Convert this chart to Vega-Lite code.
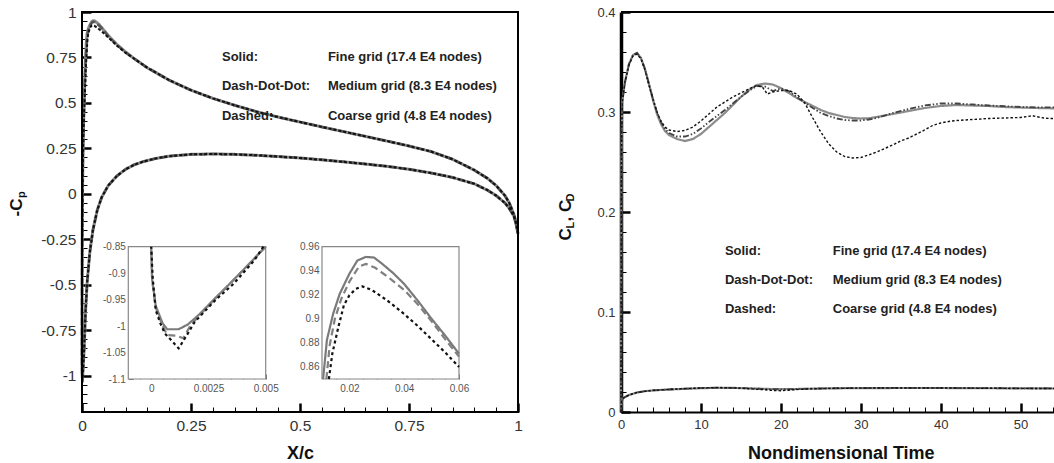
{
  "$schema": "https://vega.github.io/schema/vega-lite/v6.json",
  "width": 1054,
  "height": 463,
  "autosize": "none",
  "padding": 0,
  "background": "white",
  "config": {
    "view": {"stroke": null},
    "font": "Liberation Sans",
    "axis": {"grid": false, "labelFont": "Liberation Sans", "titleFont": "Liberation Sans", "labelOverlap": false, "labelBound": false, "labelFlush": false}
  },
  "datasets": {
    "cp": [
      {"g":"f","x":1,"y":-0.22},{"g":"f","x":0.995,"y":-0.16},{"g":"f","x":0.99,"y":-0.12},{"g":"f","x":0.98,"y":-0.08},{"g":"f","x":0.97,"y":-0.05},{"g":"f","x":0.95,"y":-0.01},{"g":"f","x":0.93,"y":0.02},{"g":"f","x":0.9,"y":0.055},{"g":"f","x":0.85,"y":0.09},{"g":"f","x":0.8,"y":0.115},{"g":"f","x":0.75,"y":0.135},{"g":"f","x":0.7,"y":0.151},{"g":"f","x":0.65,"y":0.164},{"g":"f","x":0.6,"y":0.176},{"g":"f","x":0.55,"y":0.187},{"g":"f","x":0.5,"y":0.197},{"g":"f","x":0.45,"y":0.205},{"g":"f","x":0.4,"y":0.212},{"g":"f","x":0.35,"y":0.217},{"g":"f","x":0.3,"y":0.219},{"g":"f","x":0.25,"y":0.217},{"g":"f","x":0.2,"y":0.207},{"g":"f","x":0.17,"y":0.195},{"g":"f","x":0.14,"y":0.177},{"g":"f","x":0.12,"y":0.16},{"g":"f","x":0.1,"y":0.135},{"g":"f","x":0.08,"y":0.098},{"g":"f","x":0.06,"y":0.045},{"g":"f","x":0.045,"y":-0.02},{"g":"f","x":0.035,"y":-0.09},{"g":"f","x":0.025,"y":-0.2},{"g":"f","x":0.018,"y":-0.32},{"g":"f","x":0.012,"y":-0.48},{"g":"f","x":0.008,"y":-0.65},
      {"g":"f","x":0.005,"y":-0.85},{"g":"f","x":0.0042,"y":-0.886},{"g":"f","x":0.0035,"y":-0.917},{"g":"f","x":0.0028,"y":-0.947},{"g":"f","x":0.0021,"y":-0.978},{"g":"f","x":0.0016,"y":-0.997},{"g":"f","x":0.0012,"y":-1.006},{"g":"f","x":0.0007,"y":-1.006},{"g":"f","x":0.0005,"y":-0.995},{"g":"f","x":0.0002,"y":-0.962},{"g":"f","x":0.00004,"y":-0.912},{"g":"f","x":0,"y":-0.85},
      {"g":"f","x":0.0001,"y":-0.55},{"g":"f","x":0.0005,"y":-0.25},{"g":"f","x":0.0012,"y":0.02},{"g":"f","x":0.0025,"y":0.28},{"g":"f","x":0.005,"y":0.52},{"g":"f","x":0.0077,"y":0.73},{"g":"f","x":0.0104,"y":0.85},{"g":"f","x":0.0118,"y":0.8825},{"g":"f","x":0.0141,"y":0.9045},{"g":"f","x":0.0165,"y":0.921},{"g":"f","x":0.02,"y":0.9375},{"g":"f","x":0.0229,"y":0.9485},{"g":"f","x":0.026,"y":0.9515},{"g":"f","x":0.029,"y":0.951},{"g":"f","x":0.032,"y":0.9457},{"g":"f","x":0.036,"y":0.938},{"g":"f","x":0.04,"y":0.929},{"g":"f","x":0.045,"y":0.915},{"g":"f","x":0.05,"y":0.9},{"g":"f","x":0.055,"y":0.886},{"g":"f","x":0.06,"y":0.871},{"g":"f","x":0.07,"y":0.846},{"g":"f","x":0.08,"y":0.822},{"g":"f","x":0.1,"y":0.78},
      {"g":"f","x":0.12,"y":0.743},{"g":"f","x":0.15,"y":0.693},{"g":"f","x":0.2,"y":0.625},{"g":"f","x":0.25,"y":0.57},{"g":"f","x":0.3,"y":0.525},{"g":"f","x":0.35,"y":0.487},{"g":"f","x":0.4,"y":0.452},{"g":"f","x":0.45,"y":0.422},{"g":"f","x":0.5,"y":0.395},{"g":"f","x":0.55,"y":0.368},{"g":"f","x":0.6,"y":0.342},{"g":"f","x":0.65,"y":0.316},{"g":"f","x":0.7,"y":0.29},{"g":"f","x":0.75,"y":0.263},{"g":"f","x":0.8,"y":0.233},{"g":"f","x":0.85,"y":0.19},{"g":"f","x":0.9,"y":0.13},{"g":"f","x":0.93,"y":0.085},{"g":"f","x":0.95,"y":0.045},{"g":"f","x":0.97,"y":-0.01},{"g":"f","x":0.98,"y":-0.05},{"g":"f","x":0.99,"y":-0.11},{"g":"f","x":0.995,"y":-0.15},{"g":"f","x":1,"y":-0.22},

      {"g":"m","x":1,"y":-0.22},{"g":"m","x":0.995,"y":-0.16},{"g":"m","x":0.99,"y":-0.12},{"g":"m","x":0.98,"y":-0.08},{"g":"m","x":0.97,"y":-0.05},{"g":"m","x":0.95,"y":-0.01},{"g":"m","x":0.93,"y":0.02},{"g":"m","x":0.9,"y":0.055},{"g":"m","x":0.85,"y":0.09},{"g":"m","x":0.8,"y":0.115},{"g":"m","x":0.75,"y":0.135},{"g":"m","x":0.7,"y":0.151},{"g":"m","x":0.65,"y":0.164},{"g":"m","x":0.6,"y":0.176},{"g":"m","x":0.55,"y":0.187},{"g":"m","x":0.5,"y":0.197},{"g":"m","x":0.45,"y":0.205},{"g":"m","x":0.4,"y":0.212},{"g":"m","x":0.35,"y":0.217},{"g":"m","x":0.3,"y":0.219},{"g":"m","x":0.25,"y":0.217},{"g":"m","x":0.2,"y":0.207},{"g":"m","x":0.17,"y":0.195},{"g":"m","x":0.14,"y":0.177},{"g":"m","x":0.12,"y":0.16},{"g":"m","x":0.1,"y":0.135},{"g":"m","x":0.08,"y":0.098},{"g":"m","x":0.06,"y":0.045},{"g":"m","x":0.045,"y":-0.02},{"g":"m","x":0.035,"y":-0.09},{"g":"m","x":0.025,"y":-0.2},{"g":"m","x":0.018,"y":-0.32},{"g":"m","x":0.012,"y":-0.48},{"g":"m","x":0.008,"y":-0.65},
      {"g":"m","x":0.005,"y":-0.85},{"g":"m","x":0.0042,"y":-0.886},{"g":"m","x":0.0035,"y":-0.917},{"g":"m","x":0.0028,"y":-0.948},{"g":"m","x":0.0021,"y":-0.98},{"g":"m","x":0.0017,"y":-1.0},{"g":"m","x":0.0014,"y":-1.023},{"g":"m","x":0.0011,"y":-1.018},{"g":"m","x":0.0007,"y":-1.017},{"g":"m","x":0.0005,"y":-1.0},{"g":"m","x":0.0002,"y":-0.965},{"g":"m","x":0.00004,"y":-0.912},{"g":"m","x":0,"y":-0.85},
      {"g":"m","x":0.0001,"y":-0.55},{"g":"m","x":0.0005,"y":-0.25},{"g":"m","x":0.0012,"y":0.02},{"g":"m","x":0.0025,"y":0.28},{"g":"m","x":0.005,"y":0.51},{"g":"m","x":0.008,"y":0.72},{"g":"m","x":0.0116,"y":0.85},{"g":"m","x":0.0128,"y":0.878},{"g":"m","x":0.0147,"y":0.9},{"g":"m","x":0.0171,"y":0.917},{"g":"m","x":0.02,"y":0.931},{"g":"m","x":0.0235,"y":0.9435},{"g":"m","x":0.026,"y":0.9457},{"g":"m","x":0.0294,"y":0.9425},{"g":"m","x":0.034,"y":0.935},{"g":"m","x":0.04,"y":0.924},{"g":"m","x":0.045,"y":0.912},{"g":"m","x":0.05,"y":0.898},{"g":"m","x":0.055,"y":0.883},{"g":"m","x":0.06,"y":0.8686},{"g":"m","x":0.07,"y":0.843},{"g":"m","x":0.08,"y":0.819},{"g":"m","x":0.1,"y":0.778},
      {"g":"m","x":0.12,"y":0.743},{"g":"m","x":0.15,"y":0.693},{"g":"m","x":0.2,"y":0.625},{"g":"m","x":0.25,"y":0.57},{"g":"m","x":0.3,"y":0.525},{"g":"m","x":0.35,"y":0.487},{"g":"m","x":0.4,"y":0.452},{"g":"m","x":0.45,"y":0.422},{"g":"m","x":0.5,"y":0.395},{"g":"m","x":0.55,"y":0.368},{"g":"m","x":0.6,"y":0.342},{"g":"m","x":0.65,"y":0.316},{"g":"m","x":0.7,"y":0.29},{"g":"m","x":0.75,"y":0.263},{"g":"m","x":0.8,"y":0.233},{"g":"m","x":0.85,"y":0.19},{"g":"m","x":0.9,"y":0.13},{"g":"m","x":0.93,"y":0.085},{"g":"m","x":0.95,"y":0.045},{"g":"m","x":0.97,"y":-0.01},{"g":"m","x":0.98,"y":-0.05},{"g":"m","x":0.99,"y":-0.11},{"g":"m","x":0.995,"y":-0.15},{"g":"m","x":1,"y":-0.22},

      {"g":"c","x":1,"y":-0.22},{"g":"c","x":0.995,"y":-0.16},{"g":"c","x":0.99,"y":-0.12},{"g":"c","x":0.98,"y":-0.08},{"g":"c","x":0.97,"y":-0.05},{"g":"c","x":0.95,"y":-0.01},{"g":"c","x":0.93,"y":0.02},{"g":"c","x":0.9,"y":0.055},{"g":"c","x":0.85,"y":0.09},{"g":"c","x":0.8,"y":0.115},{"g":"c","x":0.75,"y":0.135},{"g":"c","x":0.7,"y":0.151},{"g":"c","x":0.65,"y":0.164},{"g":"c","x":0.6,"y":0.176},{"g":"c","x":0.55,"y":0.187},{"g":"c","x":0.5,"y":0.197},{"g":"c","x":0.45,"y":0.205},{"g":"c","x":0.4,"y":0.212},{"g":"c","x":0.35,"y":0.217},{"g":"c","x":0.3,"y":0.219},{"g":"c","x":0.25,"y":0.217},{"g":"c","x":0.2,"y":0.207},{"g":"c","x":0.17,"y":0.195},{"g":"c","x":0.14,"y":0.177},{"g":"c","x":0.12,"y":0.16},{"g":"c","x":0.1,"y":0.135},{"g":"c","x":0.08,"y":0.098},{"g":"c","x":0.06,"y":0.045},{"g":"c","x":0.045,"y":-0.02},{"g":"c","x":0.035,"y":-0.09},{"g":"c","x":0.025,"y":-0.2},{"g":"c","x":0.018,"y":-0.32},{"g":"c","x":0.012,"y":-0.48},{"g":"c","x":0.008,"y":-0.65},
      {"g":"c","x":0.0049,"y":-0.85},{"g":"c","x":0.0045,"y":-0.876},{"g":"c","x":0.0036,"y":-0.92},{"g":"c","x":0.0028,"y":-0.951},{"g":"c","x":0.0019,"y":-0.992},{"g":"c","x":0.0016,"y":-1.014},{"g":"c","x":0.0012,"y":-1.042},{"g":"c","x":0.0006,"y":-1.014},{"g":"c","x":0.0004,"y":-0.995},{"g":"c","x":0.0002,"y":-0.97},{"g":"c","x":0.00007,"y":-0.912},{"g":"c","x":0,"y":-0.85},
      {"g":"c","x":0.0001,"y":-0.6},{"g":"c","x":0.0005,"y":-0.3},{"g":"c","x":0.0012,"y":-0.03},{"g":"c","x":0.0025,"y":0.23},{"g":"c","x":0.005,"y":0.45},{"g":"c","x":0.009,"y":0.7},{"g":"c","x":0.0125,"y":0.85},{"g":"c","x":0.0138,"y":0.8715},{"g":"c","x":0.016,"y":0.8935},{"g":"c","x":0.018,"y":0.9114},{"g":"c","x":0.02,"y":0.9196},{"g":"c","x":0.0224,"y":0.925},{"g":"c","x":0.0247,"y":0.927},{"g":"c","x":0.028,"y":0.9243},{"g":"c","x":0.034,"y":0.915},{"g":"c","x":0.04,"y":0.904},{"g":"c","x":0.045,"y":0.894},{"g":"c","x":0.05,"y":0.883},{"g":"c","x":0.055,"y":0.872},{"g":"c","x":0.06,"y":0.86},{"g":"c","x":0.07,"y":0.838},{"g":"c","x":0.08,"y":0.815},{"g":"c","x":0.1,"y":0.775},
      {"g":"c","x":0.12,"y":0.743},{"g":"c","x":0.15,"y":0.693},{"g":"c","x":0.2,"y":0.625},{"g":"c","x":0.25,"y":0.57},{"g":"c","x":0.3,"y":0.525},{"g":"c","x":0.35,"y":0.487},{"g":"c","x":0.4,"y":0.452},{"g":"c","x":0.45,"y":0.422},{"g":"c","x":0.5,"y":0.395},{"g":"c","x":0.55,"y":0.368},{"g":"c","x":0.6,"y":0.342},{"g":"c","x":0.65,"y":0.316},{"g":"c","x":0.7,"y":0.29},{"g":"c","x":0.75,"y":0.263},{"g":"c","x":0.8,"y":0.233},{"g":"c","x":0.85,"y":0.19},{"g":"c","x":0.9,"y":0.13},{"g":"c","x":0.93,"y":0.085},{"g":"c","x":0.95,"y":0.045},{"g":"c","x":0.97,"y":-0.01},{"g":"c","x":0.98,"y":-0.05},{"g":"c","x":0.99,"y":-0.11},{"g":"c","x":0.995,"y":-0.15},{"g":"c","x":1,"y":-0.22}
    ],
    "co": [
      {"g":"f","c":"L","t":0,"v":0},{"g":"f","c":"L","t":0.05,"v":0.25},{"g":"f","c":"L","t":0.15,"v":0.31},{"g":"f","c":"L","t":0.5,"v":0.33},{"g":"f","c":"L","t":1,"v":0.348},{"g":"f","c":"L","t":1.5,"v":0.357},{"g":"f","c":"L","t":2,"v":0.359},{"g":"f","c":"L","t":2.5,"v":0.354},{"g":"f","c":"L","t":3,"v":0.343},{"g":"f","c":"L","t":3.5,"v":0.328},{"g":"f","c":"L","t":4,"v":0.312},{"g":"f","c":"L","t":4.5,"v":0.298},{"g":"f","c":"L","t":5,"v":0.288},{"g":"f","c":"L","t":5.5,"v":0.281},{"g":"f","c":"L","t":6,"v":0.277},{"g":"f","c":"L","t":7,"v":0.273},{"g":"f","c":"L","t":8,"v":0.271},{"g":"f","c":"L","t":9,"v":0.273},{"g":"f","c":"L","t":10,"v":0.278},{"g":"f","c":"L","t":11,"v":0.285},{"g":"f","c":"L","t":12,"v":0.292},{"g":"f","c":"L","t":13,"v":0.299},{"g":"f","c":"L","t":14,"v":0.307},{"g":"f","c":"L","t":15,"v":0.315},{"g":"f","c":"L","t":16,"v":0.322},{"g":"f","c":"L","t":17,"v":0.327},{"g":"f","c":"L","t":18,"v":0.3285},{"g":"f","c":"L","t":19,"v":0.3275},{"g":"f","c":"L","t":20,"v":0.324},{"g":"f","c":"L","t":21,"v":0.319},{"g":"f","c":"L","t":22,"v":0.314},{"g":"f","c":"L","t":23,"v":0.31},{"g":"f","c":"L","t":24,"v":0.306},{"g":"f","c":"L","t":25,"v":0.302},{"g":"f","c":"L","t":26,"v":0.299},{"g":"f","c":"L","t":27,"v":0.297},{"g":"f","c":"L","t":28,"v":0.295},{"g":"f","c":"L","t":29,"v":0.294},{"g":"f","c":"L","t":30,"v":0.2935},{"g":"f","c":"L","t":31,"v":0.2937},{"g":"f","c":"L","t":32,"v":0.295},{"g":"f","c":"L","t":34,"v":0.298},{"g":"f","c":"L","t":36,"v":0.301},{"g":"f","c":"L","t":38,"v":0.304},{"g":"f","c":"L","t":40,"v":0.306},{"g":"f","c":"L","t":42,"v":0.307},{"g":"f","c":"L","t":44,"v":0.3065},{"g":"f","c":"L","t":46,"v":0.306},{"g":"f","c":"L","t":48,"v":0.305},{"g":"f","c":"L","t":50,"v":0.3045},{"g":"f","c":"L","t":52,"v":0.304},{"g":"f","c":"L","t":55,"v":0.3035},
      {"g":"m","c":"L","t":0,"v":0},{"g":"m","c":"L","t":0.05,"v":0.25},{"g":"m","c":"L","t":0.15,"v":0.31},{"g":"m","c":"L","t":0.5,"v":0.33},{"g":"m","c":"L","t":1,"v":0.348},{"g":"m","c":"L","t":1.5,"v":0.357},{"g":"m","c":"L","t":2,"v":0.359},{"g":"m","c":"L","t":2.5,"v":0.354},{"g":"m","c":"L","t":3,"v":0.343},{"g":"m","c":"L","t":3.5,"v":0.328},{"g":"m","c":"L","t":4,"v":0.313},{"g":"m","c":"L","t":4.5,"v":0.3},{"g":"m","c":"L","t":5,"v":0.29},{"g":"m","c":"L","t":5.5,"v":0.283},{"g":"m","c":"L","t":6,"v":0.279},{"g":"m","c":"L","t":7,"v":0.2755},{"g":"m","c":"L","t":8,"v":0.2755},{"g":"m","c":"L","t":9,"v":0.278},{"g":"m","c":"L","t":10,"v":0.2835},{"g":"m","c":"L","t":11,"v":0.29},{"g":"m","c":"L","t":12,"v":0.296},{"g":"m","c":"L","t":13,"v":0.302},{"g":"m","c":"L","t":14,"v":0.3085},{"g":"m","c":"L","t":15,"v":0.315},{"g":"m","c":"L","t":16,"v":0.321},{"g":"m","c":"L","t":17,"v":0.326},{"g":"m","c":"L","t":18,"v":0.3255},{"g":"m","c":"L","t":19,"v":0.321},{"g":"m","c":"L","t":20,"v":0.3235},{"g":"m","c":"L","t":21,"v":0.321},{"g":"m","c":"L","t":22,"v":0.315},{"g":"m","c":"L","t":23,"v":0.309},{"g":"m","c":"L","t":24,"v":0.304},{"g":"m","c":"L","t":25,"v":0.299},{"g":"m","c":"L","t":26,"v":0.296},{"g":"m","c":"L","t":27,"v":0.2935},{"g":"m","c":"L","t":28,"v":0.292},{"g":"m","c":"L","t":29,"v":0.2915},{"g":"m","c":"L","t":30,"v":0.2915},{"g":"m","c":"L","t":31,"v":0.2925},{"g":"m","c":"L","t":32,"v":0.294},{"g":"m","c":"L","t":34,"v":0.299},{"g":"m","c":"L","t":36,"v":0.303},{"g":"m","c":"L","t":38,"v":0.3065},{"g":"m","c":"L","t":40,"v":0.3085},{"g":"m","c":"L","t":42,"v":0.3085},{"g":"m","c":"L","t":44,"v":0.3075},{"g":"m","c":"L","t":46,"v":0.3065},{"g":"m","c":"L","t":48,"v":0.3058},{"g":"m","c":"L","t":50,"v":0.305},{"g":"m","c":"L","t":52,"v":0.3047},{"g":"m","c":"L","t":55,"v":0.3045},
      {"g":"c","c":"L","t":0,"v":0},{"g":"c","c":"L","t":0.05,"v":0.25},{"g":"c","c":"L","t":0.15,"v":0.31},{"g":"c","c":"L","t":0.5,"v":0.33},{"g":"c","c":"L","t":1,"v":0.347},{"g":"c","c":"L","t":1.5,"v":0.356},{"g":"c","c":"L","t":2,"v":0.358},{"g":"c","c":"L","t":2.5,"v":0.353},{"g":"c","c":"L","t":3,"v":0.342},{"g":"c","c":"L","t":3.5,"v":0.327},{"g":"c","c":"L","t":4,"v":0.313},{"g":"c","c":"L","t":4.5,"v":0.3},{"g":"c","c":"L","t":5,"v":0.291},{"g":"c","c":"L","t":5.5,"v":0.285},{"g":"c","c":"L","t":6,"v":0.282},{"g":"c","c":"L","t":7,"v":0.2805},{"g":"c","c":"L","t":8,"v":0.2815},{"g":"c","c":"L","t":9,"v":0.285},{"g":"c","c":"L","t":10,"v":0.291},{"g":"c","c":"L","t":11,"v":0.298},{"g":"c","c":"L","t":12,"v":0.305},{"g":"c","c":"L","t":13,"v":0.31},{"g":"c","c":"L","t":14,"v":0.315},{"g":"c","c":"L","t":15,"v":0.319},{"g":"c","c":"L","t":16,"v":0.323},{"g":"c","c":"L","t":17,"v":0.3265},{"g":"c","c":"L","t":17.7,"v":0.325},{"g":"c","c":"L","t":18.3,"v":0.318},{"g":"c","c":"L","t":19,"v":0.32},{"g":"c","c":"L","t":20,"v":0.3215},{"g":"c","c":"L","t":21,"v":0.3215},{"g":"c","c":"L","t":22,"v":0.318},{"g":"c","c":"L","t":23,"v":0.309},{"g":"c","c":"L","t":24,"v":0.294},{"g":"c","c":"L","t":25,"v":0.28},{"g":"c","c":"L","t":26,"v":0.268},{"g":"c","c":"L","t":27,"v":0.26},{"g":"c","c":"L","t":28,"v":0.2555},{"g":"c","c":"L","t":29,"v":0.254},{"g":"c","c":"L","t":30,"v":0.2545},{"g":"c","c":"L","t":31,"v":0.257},{"g":"c","c":"L","t":32,"v":0.26},{"g":"c","c":"L","t":33,"v":0.2635},{"g":"c","c":"L","t":34,"v":0.267},{"g":"c","c":"L","t":35,"v":0.271},{"g":"c","c":"L","t":36,"v":0.274},{"g":"c","c":"L","t":37,"v":0.278},{"g":"c","c":"L","t":38,"v":0.282},{"g":"c","c":"L","t":39,"v":0.2865},{"g":"c","c":"L","t":40,"v":0.289},{"g":"c","c":"L","t":41,"v":0.2905},{"g":"c","c":"L","t":42,"v":0.2915},{"g":"c","c":"L","t":44,"v":0.2925},{"g":"c","c":"L","t":46,"v":0.2935},{"g":"c","c":"L","t":48,"v":0.294},{"g":"c","c":"L","t":50,"v":0.2945},{"g":"c","c":"L","t":51.5,"v":0.2963},{"g":"c","c":"L","t":52.5,"v":0.2945},{"g":"c","c":"L","t":53.2,"v":0.2937},{"g":"c","c":"L","t":54,"v":0.2935},{"g":"c","c":"L","t":55,"v":0.292},
      {"g":"f","c":"D","t":0,"v":0},{"g":"f","c":"D","t":0.05,"v":0.01},{"g":"f","c":"D","t":0.3,"v":0.014},{"g":"f","c":"D","t":1,"v":0.017},{"g":"f","c":"D","t":2,"v":0.0195},{"g":"f","c":"D","t":3,"v":0.0208},{"g":"f","c":"D","t":4,"v":0.0216},{"g":"f","c":"D","t":6,"v":0.0225},{"g":"f","c":"D","t":8,"v":0.0232},{"g":"f","c":"D","t":10,"v":0.0238},{"g":"f","c":"D","t":12,"v":0.0242},{"g":"f","c":"D","t":14,"v":0.0241},{"g":"f","c":"D","t":16,"v":0.0237},{"g":"f","c":"D","t":18,"v":0.0231},{"g":"f","c":"D","t":20,"v":0.0228},{"g":"f","c":"D","t":22,"v":0.023},{"g":"f","c":"D","t":24,"v":0.0233},{"g":"f","c":"D","t":26,"v":0.0236},{"g":"f","c":"D","t":30,"v":0.0239},{"g":"f","c":"D","t":35,"v":0.024},{"g":"f","c":"D","t":40,"v":0.024},{"g":"f","c":"D","t":45,"v":0.0238},{"g":"f","c":"D","t":50,"v":0.0236},{"g":"f","c":"D","t":55,"v":0.0235},
      {"g":"m","c":"D","t":0,"v":0},{"g":"m","c":"D","t":0.05,"v":0.01},{"g":"m","c":"D","t":0.3,"v":0.014},{"g":"m","c":"D","t":1,"v":0.017},{"g":"m","c":"D","t":2,"v":0.0195},{"g":"m","c":"D","t":3,"v":0.0208},{"g":"m","c":"D","t":4,"v":0.0216},{"g":"m","c":"D","t":6,"v":0.0225},{"g":"m","c":"D","t":8,"v":0.0233},{"g":"m","c":"D","t":10,"v":0.0239},{"g":"m","c":"D","t":12,"v":0.0243},{"g":"m","c":"D","t":14,"v":0.0241},{"g":"m","c":"D","t":16,"v":0.0236},{"g":"m","c":"D","t":18,"v":0.023},{"g":"m","c":"D","t":20,"v":0.0227},{"g":"m","c":"D","t":22,"v":0.023},{"g":"m","c":"D","t":24,"v":0.0234},{"g":"m","c":"D","t":26,"v":0.0237},{"g":"m","c":"D","t":30,"v":0.024},{"g":"m","c":"D","t":35,"v":0.0241},{"g":"m","c":"D","t":40,"v":0.0241},{"g":"m","c":"D","t":45,"v":0.0239},{"g":"m","c":"D","t":50,"v":0.0237},{"g":"m","c":"D","t":55,"v":0.0236},
      {"g":"c","c":"D","t":0,"v":0},{"g":"c","c":"D","t":0.05,"v":0.01},{"g":"c","c":"D","t":0.3,"v":0.014},{"g":"c","c":"D","t":1,"v":0.017},{"g":"c","c":"D","t":2,"v":0.0195},{"g":"c","c":"D","t":3,"v":0.0208},{"g":"c","c":"D","t":4,"v":0.0216},{"g":"c","c":"D","t":6,"v":0.0226},{"g":"c","c":"D","t":8,"v":0.0234},{"g":"c","c":"D","t":10,"v":0.024},{"g":"c","c":"D","t":12,"v":0.0244},{"g":"c","c":"D","t":14,"v":0.0241},{"g":"c","c":"D","t":16,"v":0.0233},{"g":"c","c":"D","t":18,"v":0.0222},{"g":"c","c":"D","t":19,"v":0.0215},{"g":"c","c":"D","t":20,"v":0.0213},{"g":"c","c":"D","t":21,"v":0.0218},{"g":"c","c":"D","t":22,"v":0.0225},{"g":"c","c":"D","t":24,"v":0.0232},{"g":"c","c":"D","t":26,"v":0.0236},{"g":"c","c":"D","t":30,"v":0.0239},{"g":"c","c":"D","t":35,"v":0.024},{"g":"c","c":"D","t":40,"v":0.024},{"g":"c","c":"D","t":45,"v":0.0238},{"g":"c","c":"D","t":50,"v":0.0236},{"g":"c","c":"D","t":55,"v":0.0235}
    ]
  },
  "layer": [
    {
      "layer": [
        {
          "data": {"name": "cp"},
          "mark": {"type": "line", "strokeCap": "butt"},
          "encoding": {
            "x": {"field": "x", "type": "quantitative",
              "scale": {"domain": [0, 1], "range": [82, 518], "nice": false, "zero": false},
              "axis": {"orient": "bottom", "offset": -51, "domain": false, "labelOverlap": false,
                "values": [0,0.25,0.5,0.75,1], "labelExpr": "''+datum.value",
                "tickSize": -9, "tickWidth": 2.5, "tickColor": "black", "labelPadding": 15, "labelFontSize": 15.5, "labelColor": "#333",
                "title": "X/c", "titleFontSize": 18, "titleFontWeight": "bold", "titleColor": "#111",
                "titleY": 46.5, "titleBaseline": "alphabetic"}},
            "y": {"field": "y", "type": "quantitative",
              "scale": {"domain": [-1.2, 1], "range": [412, 12], "nice": false, "zero": false},
              "axis": {"orient": "left", "offset": -82, "domain": false, "labelOverlap": false,
                "values": [-1,-0.75,-0.5,-0.25,0,0.25,0.5,0.75,1], "labelExpr": "''+datum.value",
                "tickSize": -9, "tickWidth": 2.5, "tickColor": "black", "labelPadding": 15, "labelFontSize": 15.5, "labelColor": "#333",
                "title": "-C", "titleFontSize": 17, "titleFontWeight": "bold", "titleColor": "#111",
                "titleX": -61, "titleY": 216, "titleAlign": "left", "titleBaseline": "alphabetic", "titleAngle": -90}},
            "color": {"field": "g", "type": "nominal", "scale": {"domain": ["f","m","c"], "range": ["#8a8a8a","#555555","#111111"]}, "legend": null},
            "strokeDash": {"field": "g", "type": "nominal", "scale": {"domain": ["f","m","c"], "range": [[1,0],[7,3],[3,2]]}, "legend": null},
            "strokeWidth": {"field": "g", "type": "nominal", "scale": {"domain": ["f","m","c"], "range": [3,2,2]}, "legend": null},
            "order": {"value": null}
          }
        },
        {
          "data": {"values": [{}]},
          "mark": {"type": "rect", "filled": false, "color": "black", "strokeWidth": 2},
          "encoding": {"x": {"datum": 0}, "x2": {"datum": 1}, "y": {"datum": -1.2}, "y2": {"datum": 1}}
        },
        {
          "data": {"values": [{}]},
          "mark": {"type": "text", "align": "left", "baseline": "middle", "fontSize": 13, "fontWeight": "bold", "font": "Liberation Sans", "color": "#222", "lineHeight": 29.5},
          "encoding": {"x": {"datum": 0.321}, "y": {"datum": 0.754}, "text": {"value": ["Solid:", "Dash-Dot-Dot:", "Dashed:"]}}
        },
        {
          "data": {"values": [{}]},
          "mark": {"type": "text", "align": "left", "baseline": "middle", "fontSize": 13, "fontWeight": "bold", "font": "Liberation Sans", "color": "#222", "lineHeight": 29.5},
          "encoding": {"x": {"datum": 0.564}, "y": {"datum": 0.754}, "text": {"value": ["Fine grid (17.4 E4 nodes)", "Medium grid (8.3 E4 nodes)", "Coarse grid (4.8 E4 nodes)"]}}
        },
        {
          "data": {"values": [{}]},
          "mark": {"type": "text", "align": "left", "baseline": "alphabetic", "angle": -90, "fontSize": 11, "fontWeight": "bold", "font": "Liberation Sans", "color": "#111"},
          "encoding": {"x": {"datum": -0.1307}, "y": {"datum": -0.023}, "text": {"value": "p"}}
        }
      ]
    },
    {
      "data": {"values": [{}]},
      "mark": {"type": "point", "opacity": 0},
      "encoding": {
        "x": {"datum": 0, "type": "quantitative",
          "scale": {"domain": [0, 1], "range": [82, 518], "nice": false, "zero": false},
          "axis": {"orient": "bottom", "offset": -51, "domain": false, "labels": false, "title": null,
            "values": [0.05,0.1,0.15,0.2,0.3,0.35,0.4,0.45,0.55,0.6,0.65,0.7,0.8,0.85,0.9,0.95],
            "tickSize": -5, "tickWidth": 1, "tickColor": "black"}},
        "y": {"datum": 0, "type": "quantitative",
          "scale": {"domain": [-1.2, 1], "range": [412, 12], "nice": false, "zero": false},
          "axis": {"orient": "left", "offset": -82, "domain": false, "labels": false, "title": null,
            "values": [-1.15,-1.1,-1.05,-0.95,-0.9,-0.85,-0.8,-0.7,-0.65,-0.6,-0.55,-0.45,-0.4,-0.35,-0.3,-0.2,-0.15,-0.1,-0.05,0.05,0.1,0.15,0.2,0.3,0.35,0.4,0.45,0.55,0.6,0.65,0.7,0.8,0.85,0.9,0.95],
            "tickSize": -5, "tickWidth": 1, "tickColor": "black"}}
      }
    },
    {
      "layer": [
        {
          "data": {"values": [{}]},
          "mark": {"type": "rect", "fill": "white", "stroke": "#888", "strokeWidth": 1.2},
          "encoding": {"x": {"datum": -0.001}, "x2": {"datum": 0.005}, "y": {"datum": -1.1}, "y2": {"datum": -0.85}}
        },
        {
          "data": {"name": "cp"},
          "transform": [{"filter": "datum.x >= -0.001 && datum.x <= 0.005 && datum.y >= -1.1 && datum.y <= -0.85"}],
          "mark": {"type": "line", "strokeCap": "butt"},
          "encoding": {
            "x": {"field": "x", "type": "quantitative",
              "scale": {"domain": [-0.001, 0.005], "range": [128.3, 265.7], "nice": false, "zero": false},
              "axis": {"orient": "bottom", "offset": -84, "domain": false, "title": null, "labelOverlap": false,
                "values": [0,0.0025,0.005], "labelExpr": "''+datum.value",
                "tickSize": -5, "tickColor": "#777", "tickWidth": 1, "labelPadding": 9, "labelFontSize": 10, "labelColor": "#555"}},
            "y": {"field": "y", "type": "quantitative",
              "scale": {"domain": [-1.1, -0.85], "range": [379, 246.7], "nice": false, "zero": false},
              "axis": {"orient": "left", "offset": -128.3, "domain": false, "title": null, "labelOverlap": false,
                "values": [-1.1,-1.05,-1,-0.95,-0.9,-0.85], "labelExpr": "''+datum.value",
                "tickSize": -5, "tickColor": "#777", "tickWidth": 1, "labelPadding": 8, "labelFontSize": 10, "labelColor": "#555"}},
            "color": {"field": "g", "type": "nominal", "scale": {"domain": ["f","m","c"], "range": ["#7a7a7a","#808080","#111111"]}, "legend": null},
            "strokeDash": {"field": "g", "type": "nominal", "scale": {"domain": ["f","m","c"], "range": [[1,0],[7,4],[3,3]]}, "legend": null},
            "strokeWidth": {"field": "g", "type": "nominal", "scale": {"domain": ["f","m","c"], "range": [2.2,2.2,2.2]}, "legend": null},
            "order": {"value": null}
          }
        }
      ]
    },
    {
      "data": {"values": [{}]},
      "mark": {"type": "point", "opacity": 0},
      "encoding": {
        "x": {"datum": 0, "type": "quantitative",
          "scale": {"domain": [-0.001, 0.005], "range": [128.3, 265.7], "nice": false, "zero": false},
          "axis": {"orient": "bottom", "offset": -84, "domain": false, "labels": false, "title": null,
            "values": [-0.0005,0.0005,0.001,0.0015,0.002,0.003,0.0035,0.004,0.0045],
            "tickSize": -3, "tickWidth": 1, "tickColor": "#777"}},
        "y": {"datum": -1, "type": "quantitative",
          "scale": {"domain": [-1.1, -0.85], "range": [379, 246.7], "nice": false, "zero": false},
          "axis": {"orient": "left", "offset": -128.3, "domain": false, "labels": false, "title": null,
            "values": [-1.09,-1.08,-1.07,-1.06,-1.04,-1.03,-1.02,-1.01,-0.99,-0.98,-0.97,-0.96,-0.94,-0.93,-0.92,-0.91,-0.89,-0.88,-0.87,-0.86],
            "tickSize": -3, "tickWidth": 1, "tickColor": "#777"}}
      }
    },
    {
      "layer": [
        {
          "data": {"values": [{}]},
          "mark": {"type": "rect", "fill": "white", "stroke": "#888", "strokeWidth": 1.2},
          "encoding": {"x": {"datum": 0.01}, "x2": {"datum": 0.06}, "y": {"datum": 0.85}, "y2": {"datum": 0.96}}
        },
        {
          "data": {"name": "cp"},
          "transform": [{"filter": "datum.x >= 0.01 && datum.x <= 0.06 && datum.y >= 0.85 && datum.y <= 0.96"}],
          "mark": {"type": "line", "strokeCap": "butt"},
          "encoding": {
            "x": {"field": "x", "type": "quantitative",
              "scale": {"domain": [0.01, 0.06], "range": [322, 459], "nice": false, "zero": false},
              "axis": {"orient": "bottom", "offset": -84, "domain": false, "title": null, "labelOverlap": false,
                "values": [0.02,0.04,0.06], "labelExpr": "''+datum.value",
                "tickSize": -5, "tickColor": "#777", "tickWidth": 1, "labelPadding": 9, "labelFontSize": 10, "labelColor": "#555"}},
            "y": {"field": "y", "type": "quantitative",
              "scale": {"domain": [0.85, 0.96], "range": [379, 246.7], "nice": false, "zero": false},
              "axis": {"orient": "left", "offset": -322, "domain": false, "title": null, "labelOverlap": false,
                "values": [0.86,0.88,0.9,0.92,0.94,0.96], "labelExpr": "''+datum.value",
                "tickSize": -5, "tickColor": "#777", "tickWidth": 1, "labelPadding": 8, "labelFontSize": 10, "labelColor": "#555"}},
            "color": {"field": "g", "type": "nominal", "scale": {"domain": ["f","m","c"], "range": ["#7a7a7a","#808080","#111111"]}, "legend": null},
            "strokeDash": {"field": "g", "type": "nominal", "scale": {"domain": ["f","m","c"], "range": [[1,0],[7,4],[3,3]]}, "legend": null},
            "strokeWidth": {"field": "g", "type": "nominal", "scale": {"domain": ["f","m","c"], "range": [2.2,2.2,2.2]}, "legend": null},
            "order": {"value": null}
          }
        }
      ]
    },
    {
      "data": {"values": [{}]},
      "mark": {"type": "point", "opacity": 0},
      "encoding": {
        "x": {"datum": 0.03, "type": "quantitative",
          "scale": {"domain": [0.01, 0.06], "range": [322, 459], "nice": false, "zero": false},
          "axis": {"orient": "bottom", "offset": -84, "domain": false, "labels": false, "title": null,
            "values": [0.015,0.025,0.03,0.035,0.045,0.05,0.055],
            "tickSize": -3, "tickWidth": 1, "tickColor": "#777"}},
        "y": {"datum": 0.9, "type": "quantitative",
          "scale": {"domain": [0.85, 0.96], "range": [379, 246.7], "nice": false, "zero": false},
          "axis": {"orient": "left", "offset": -322, "domain": false, "labels": false, "title": null,
            "values": [0.855,0.865,0.87,0.875,0.885,0.89,0.895,0.905,0.91,0.915,0.925,0.93,0.935,0.945,0.95,0.955],
            "tickSize": -3, "tickWidth": 1, "tickColor": "#777"}}
      }
    },
    {
      "layer": [
        {
          "data": {"name": "co"},
          "mark": {"type": "line", "strokeCap": "butt"},
          "encoding": {
            "x": {"field": "t", "type": "quantitative",
              "scale": {"domain": [0, 55], "range": [621, 1060.5], "nice": false, "zero": false},
              "axis": {"orient": "bottom", "offset": -51, "domainColor": "black", "domainWidth": 2, "labelOverlap": false,
                "values": [0,10,20,30,40,50], "labelExpr": "''+datum.value",
                "tickSize": -9, "tickWidth": 2.5, "tickColor": "black", "labelPadding": 15, "labelFontSize": 13, "labelColor": "#333",
                "title": "Nondimensional Time", "titleFontSize": 18, "titleFontWeight": "bold", "titleColor": "#111",
                "titleY": 46.5, "titleBaseline": "alphabetic"}},
            "y": {"field": "v", "type": "quantitative",
              "scale": {"domain": [0, 0.4], "range": [412, 12], "nice": false, "zero": false},
              "axis": {"orient": "left", "offset": -621, "domainColor": "black", "domainWidth": 3.5, "labelOverlap": false,
                "values": [0,0.1,0.2,0.3,0.4], "labelExpr": "''+datum.value",
                "tickSize": -9, "tickWidth": 2.5, "tickColor": "black", "labelPadding": 15, "labelFontSize": 13, "labelColor": "#333",
                "title": "C\u2009\u2009, C", "titleFontSize": 17, "titleFontWeight": "bold", "titleColor": "#111",
                "titleX": -51, "titleY": 240, "titleAlign": "left", "titleBaseline": "alphabetic", "titleAngle": -90}},
            "detail": {"field": "c", "type": "nominal"},
            "color": {"field": "g", "type": "nominal", "scale": {"domain": ["f","m","c"], "range": ["#8c8c8c","#444444","#111111"]}, "legend": null},
            "strokeDash": {"field": "g", "type": "nominal", "scale": {"domain": ["f","m","c"], "range": [[1,0],[6,2,1.5,2,1.5,2],[2.5,2]]}, "legend": null},
            "strokeWidth": {"field": "g", "type": "nominal", "scale": {"domain": ["f","m","c"], "range": [2.2,1.4,2.6]}, "legend": null},
            "order": {"value": null}
          }
        },
        {
          "data": {"values": [{}]},
          "mark": {"type": "rule", "color": "black", "strokeWidth": 2},
          "encoding": {"x": {"datum": 0}, "x2": {"datum": 55}, "y": {"datum": 0.4}}
        },
        {
          "data": {"values": [{}]},
          "mark": {"type": "text", "align": "left", "baseline": "middle", "fontSize": 13, "fontWeight": "bold", "font": "Liberation Sans", "color": "#222", "lineHeight": 29},
          "encoding": {"x": {"datum": 13.0}, "y": {"datum": 0.161}, "text": {"value": ["Solid:", "Dash-Dot-Dot:", "Dashed:"]}}
        },
        {
          "data": {"values": [{}]},
          "mark": {"type": "text", "align": "left", "baseline": "middle", "fontSize": 13, "fontWeight": "bold", "font": "Liberation Sans", "color": "#222", "lineHeight": 29},
          "encoding": {"x": {"datum": 26.5}, "y": {"datum": 0.161}, "text": {"value": ["Fine grid (17.4 E4 nodes)", "Medium grid (8.3 E4 nodes)", "Coarse grid (4.8 E4 nodes)"]}}
        },
        {
          "data": {"values": [{}]},
          "mark": {"type": "text", "align": "left", "baseline": "alphabetic", "angle": -90, "fontSize": 11, "fontWeight": "bold", "font": "Liberation Sans", "color": "#111"},
          "encoding": {"x": {"datum": -5.88}, "y": {"datum": 0.1836}, "text": {"value": "L"}}
        },
        {
          "data": {"values": [{}]},
          "mark": {"type": "text", "align": "left", "baseline": "alphabetic", "angle": -90, "fontSize": 11, "fontWeight": "bold", "font": "Liberation Sans", "color": "#111"},
          "encoding": {"x": {"datum": -5.88}, "y": {"datum": 0.2105}, "text": {"value": "D"}}
        }
      ]
    },
    {
      "data": {"values": [{}]},
      "mark": {"type": "point", "opacity": 0},
      "encoding": {
        "x": {"datum": 10, "type": "quantitative",
          "scale": {"domain": [0, 55], "range": [621, 1060.5], "nice": false, "zero": false},
          "axis": {"orient": "bottom", "offset": -51, "domain": false, "labels": false, "title": null,
            "values": [2,4,6,8,12,14,16,18,22,24,26,28,32,34,36,38,42,44,46,48,52,54],
            "tickSize": -5, "tickWidth": 1, "tickColor": "black"}},
        "y": {"datum": 0.1, "type": "quantitative",
          "scale": {"domain": [0, 0.4], "range": [412, 12], "nice": false, "zero": false},
          "axis": {"orient": "left", "offset": -621, "domain": false, "labels": false, "title": null,
            "values": [0.02,0.04,0.06,0.08,0.12,0.14,0.16,0.18,0.22,0.24,0.26,0.28,0.32,0.34,0.36,0.38],
            "tickSize": -5, "tickWidth": 1, "tickColor": "black"}}
      }
    }
  ],
  "resolve": {"scale": {"x": "independent", "y": "independent", "color": "independent", "strokeDash": "independent", "strokeWidth": "independent"}}
}
